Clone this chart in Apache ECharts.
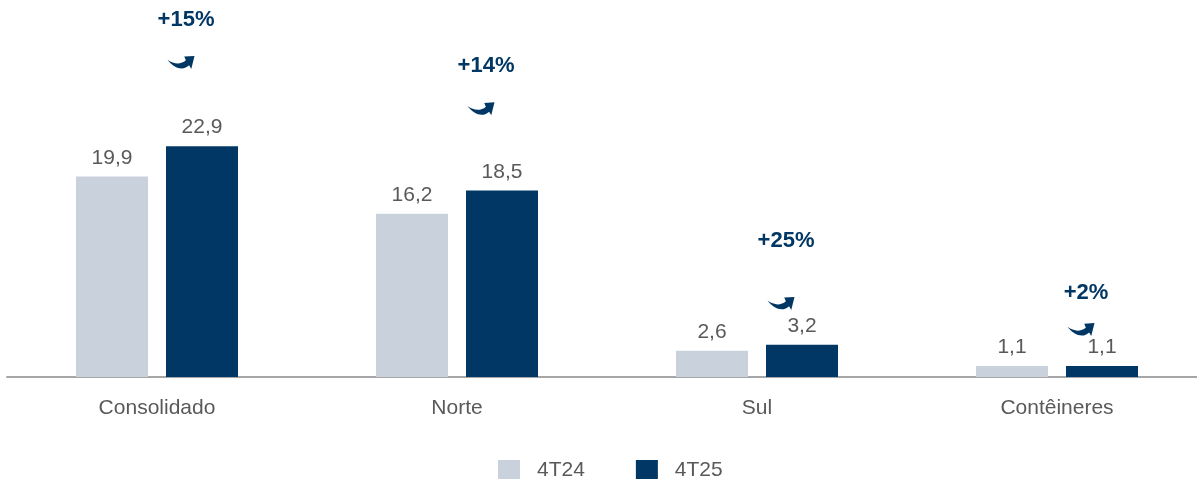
<!DOCTYPE html>
<html>
<head>
<meta charset="utf-8">
<script src="https://cdn.jsdelivr.net/npm/echarts@6/dist/echarts.min.js"></script>
<style>
  html, body { margin: 0; padding: 0; background: #fff; overflow: hidden; }
  /* 10px wider than the window so the category band is 300px */
  #chart { width: 1207px; height: 479px; }
</style>
</head>
<body>
<div id="chart"></div>
<script>
// chart data
const categories = ['Consolidado', 'Norte', 'Sul', 'Contêineres'];
const values4T24 = [19.9, 16.2, 2.6, 1.1];
const values4T25 = [22.9, 18.5, 3.2, 1.1];
const growthLabels = ['+15%', '+14%', '+25%', '+2%'];
// heights of the growth notes and arrows, in axis units
const growthTextY = [35.4, 30.9, 13.5, 8.3];
const growthArrowY = [31.2, 26.6, 7.3, 4.7];

const LIGHT = '#c9d1dd';
const DARK = '#003764';
const GREY = '#595959';
const FONT = 'Liberation Sans, Arial, sans-serif';

const arrowPath = 'path://M0,20 C25,36 50,36 68,22 L62,10 L100,8 L88,50 L80,38 C60,56 25,50 0,20 Z';

const chart = echarts.init(document.getElementById('chart'));

const valueLabel = {
  show: true,
  position: 'top',
  distance: 8,
  color: GREY,
  fontSize: 21,
  fontFamily: FONT,
  formatter: p => p.value.toFixed(1).replace('.', ',')
};

chart.setOption({
  animation: false,
  grid: { left: 7, right: 0, top: 4, bottom: 102 },
  legend: {
    data: ['4T24', '4T25'],
    left: 493,
    top: 455,
    itemWidth: 22,
    itemHeight: 21,
    itemGap: 51,
    icon: 'rect',
    textStyle: { color: GREY, fontSize: 21, fontFamily: FONT, padding: [0, 0, 0, 12] }
  },
  xAxis: {
    type: 'category',
    data: categories,
    axisLine: { lineStyle: { color: '#a6a6a6', width: 2 } },
    axisTick: { show: false },
    axisLabel: { color: GREY, fontSize: 21, fontFamily: FONT, margin: 21 }
  },
  yAxis: {
    type: 'value',
    min: 0,
    max: 37,
    show: false,
    splitLine: { show: false }
  },
  series: [
    {
      name: '4T24',
      type: 'bar',
      data: values4T24,
      barWidth: 72,
      barGap: '25%',
      itemStyle: { color: LIGHT },
      label: valueLabel
    },
    {
      name: '4T25',
      type: 'bar',
      data: values4T25,
      barWidth: 72,
      itemStyle: { color: DARK },
      label: valueLabel
    },
    {
      name: 'arrows',
      type: 'scatter',
      data: growthArrowY,
      symbol: arrowPath,
      symbolSize: [27, 13],
      symbolOffset: [24, 0],
      itemStyle: { color: DARK, opacity: 1 },
      silent: true,
      z: 5
    },
    {
      name: 'growth',
      type: 'scatter',
      data: growthTextY,
      symbolSize: 0,
      silent: true,
      itemStyle: { opacity: 1 },
      label: {
        show: true,
        position: 'inside',
        offset: [29, 0],
        color: DARK,
        fontSize: 22,
        fontWeight: 'bold',
        fontFamily: FONT,
        formatter: p => growthLabels[p.dataIndex]
      },
      z: 5
    }
  ]
});
</script>
</body>
</html>
